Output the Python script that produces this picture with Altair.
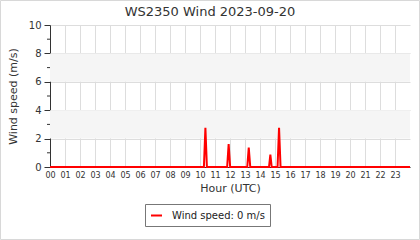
import altair as alt
import pandas as pd

# Wind speed samples (hour of day UTC, m/s)
hours = [0, 10.26, 10.36, 10.46, 11.81, 11.91, 12.01, 13.15, 13.25, 13.35,
         14.60, 14.69, 14.78, 15.17, 15.27, 15.37, 24]
speeds = [0, 0, 2.77, 0, 0, 1.62, 0, 0, 1.36, 0,
          0, 0.87, 0, 0, 2.77, 0, 0]
series_label = "Wind speed: 0 m/s"

band_lo = [2, 6]
band_hi = [4, 8]
minor_ticks = [1, 3, 5, 7, 9]
hour_ticks = list(range(24))
major_ticks = [0, 2, 4, 6, 8, 10]

W, H = 360, 142
YTITLE = "Wind speed (m/s)"

df = pd.DataFrame({"hour": hours, "speed": speeds, "series": [series_label] * len(hours)})
bands = pd.DataFrame({"lo": band_lo, "hi": band_hi})
minors = pd.DataFrame({"v": minor_ticks})

yscale = alt.Scale(domain=[0, 10], nice=False, zero=True)
xscale = alt.Scale(domain=[0, 24], nice=False)

yaxis = alt.Axis(values=major_ticks, grid=True, gridColor="#dddddd",
                 tickSize=6, tickColor="#333333", domainColor="#333333",
                 labelFontSize=10, labelColor="#333333", labelPadding=3,
                 titleFontSize=11, titleFontWeight="normal", titleColor="#333333",
                 titlePadding=10)

band_layer = alt.Chart(bands).mark_rect(fill="#f5f5f5").encode(
    x=alt.value(0), x2=alt.value(W),
    y=alt.Y("lo:Q", scale=yscale, axis=yaxis, title=YTITLE),
    y2="hi:Q",
)

line = alt.Chart(df).mark_line(strokeWidth=2, interpolate="linear").encode(
    x=alt.X("hour:Q", scale=xscale, title="Hour (UTC)",
            axis=alt.Axis(values=hour_ticks, grid=True, gridColor="#dddddd",
                          ticks=False, domainColor="#333333",
                          labelExpr="datum.value < 10 ? '0' + datum.value : '' + datum.value",
                          labelFontSize=8, labelColor="#333333", labelPadding=4,
                          titleFontSize=11, titleFontWeight="normal", titleColor="#333333",
                          titlePadding=3, labelFlush=False)),
    y=alt.Y("speed:Q", scale=yscale, axis=yaxis, title=YTITLE),
    stroke=alt.Stroke("series:N", scale=alt.Scale(range=["#ff0000"]), title=None,
                      legend=alt.Legend(orient="none", legendX=95, legendY=179,
                                        strokeColor="#777777", fillColor="white",
                                        padding=5, symbolType="stroke", symbolSize=121,
                                        symbolStrokeWidth=2, labelFontSize=10,
                                        labelColor="#222222", labelOffset=9,
                                        cornerRadius=0)),
)

minor_layer = alt.Chart(minors).mark_rule(color="#333333", strokeWidth=1).encode(
    x=alt.value(-3), x2=alt.value(0),
    y=alt.Y("v:Q", scale=yscale, axis=yaxis, title=YTITLE),
)

frame = alt.Chart(pd.DataFrame({"a": [0]})).mark_rect(
    fillOpacity=0, stroke="#d8d8d8", strokeWidth=1
).encode(x=alt.value(-49.5), x2=alt.value(369.5), y=alt.value(-24.5), y2=alt.value(214.5))

chart = alt.layer(band_layer, line, minor_layer, frame).properties(
    width=W, height=H,
    title=alt.TitleParams("WS2350 Wind 2023-09-20", fontSize=13, fontWeight="normal",
                          color="#333333", anchor="middle", dx=-20, offset=0, dy=19,
                          frame="group"),
    autosize=alt.AutoSizeParams(type="none"),
    padding={"left": 50, "top": 25, "right": 10, "bottom": 73},
).configure(font="DejaVu Sans").configure_view(stroke=None)

chart.save("out.html", embed_options={"renderer": "svg", "actions": False})
